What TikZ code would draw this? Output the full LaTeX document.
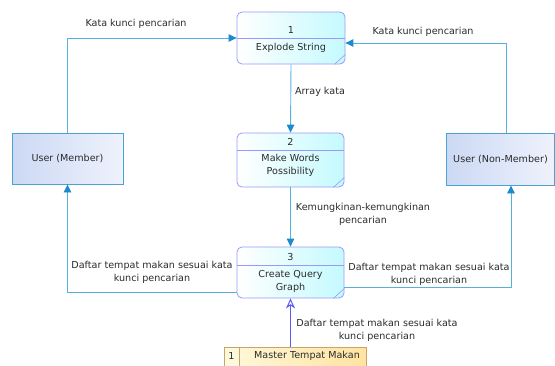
\documentclass[tikz,border=0pt]{standalone}
\usepackage{fontspec}
\setmainfont{DejaVu Sans}
\usetikzlibrary{arrows.meta,calc}

\definecolor{procline}{HTML}{9A9AF5}
\definecolor{procfill}{HTML}{C4FAFF}
\definecolor{entline}{HTML}{4BA3D3}
\definecolor{entfillA}{HTML}{CCD9F4}
\definecolor{entfillB}{HTML}{EEF2FC}
\definecolor{flowline}{HTML}{55B2E0}
\definecolor{flowhead}{HTML}{1C8BCB}
\definecolor{dsline}{HTML}{C9A468}
\definecolor{dsfillA}{HTML}{FFF9DC}
\definecolor{dsfillB}{HTML}{FFE3A0}
\definecolor{dsflow}{HTML}{5A5AF5}
\definecolor{txt}{HTML}{2B2B2B}

\tikzset{
  every node/.style={font=\fontsize{9.6}{13}\selectfont, text=txt},
  process/.style={draw=procline, line width=0.8pt, rounded corners=5pt,
    left color=white, right color=procfill, inner sep=0pt},
  entity/.style={draw=entline, line width=0.9pt, left color=entfillA,
    right color=entfillB, inner sep=0pt},
  flow/.style={draw=flowline, line width=0.9pt,
    -{Triangle[width=7.5pt,length=8pt,color=flowhead,fill=flowhead]}},
  dsflowstyle/.style={draw=dsflow, line width=1pt,
    -{Stealth[open,width=9pt,length=10pt,inset=3pt,line width=1pt]}},
  lbl/.style={align=center, inner sep=0pt},
}

\begin{document}
\begin{tikzpicture}[x=1pt,y=-1pt]
\useasboundingbox (0,0) rectangle (555,365);

% processes
\node[process, minimum width=108pt, minimum height=52pt] (p1) at (291,38) {};
\node[process, minimum width=107pt, minimum height=54pt] (p2) at (290.5,160) {};
\node[process, minimum width=107pt, minimum height=51pt] (p3) at (290.5,272.5) {};

% process dividers and corner marks
\draw[procline, line width=0.8pt] (p1.west |- 0,38) -- (p1.east |- 0,38);
\draw[procline, line width=0.8pt] (p2.west |- 0,150) -- (p2.east |- 0,150);
\draw[procline, line width=0.8pt] (p3.west |- 0,265) -- (p3.east |- 0,265);
\foreach \p in {p1,p2,p3}{
  \draw[procline, line width=0.6pt] ($(\p.south east)+(-11,0)$) -- ($(\p.south east)+(0,-10)$);
}

% process texts
\node[lbl] (n1) at (291,30) {1};
\node[lbl] (t1) at (291,48) {Explode String};
\node[lbl] (n2) at (290.5,142) {2};
\node[lbl] (t2) at (290.5,165.5) {Make Words\\Possibility};
\node[lbl] (n3) at (290.5,257) {3};
\node[lbl] (t3) at (290.5,281) {Create Query\\Graph};

% external entities
\node[entity, minimum width=111pt, minimum height=51pt] (m) at (67.5,158.5) {User (Member)};
\node[entity, minimum width=108pt, minimum height=52pt] (nm) at (500.5,159) {User (Non-Member)};

% data store
\fill[left color=dsfillA, right color=dsfillB] (224,347) rectangle (366,366);
\fill[dsfillA] (224,347) rectangle (239,366);
\draw[dsline, line width=0.8pt] (224,366) -- (224,347) -- (366,347) -- (366,366);
\draw[dsline, line width=0.8pt] (239,347) -- (239,366);
\coordinate (ds) at (290.5,347);
\node[lbl] (dsn) at (231.5,356) {1};
\node[lbl] (dst) at (307,356) {Master Tempat Makan};

% flows
\draw[flow] (m.north) |- (p1.west);
\draw[flow] ([xshift=5.5pt]nm.north) |- ([yshift=-5pt]p1.east);
\draw[flow] (p1.south) -- (p2.north);
\draw[flow] (p2.south) -- (p3.north);
\draw[flow] ([yshift=-19.5pt]p3.west) -| (m.south);
\draw[flow] ([yshift=-14.5pt]p3.east) -| ([xshift=10.5pt]nm.south);
\draw[dsflowstyle] (ds) -- (p3.south);

% flow labels
\node[lbl] (l1) at (136,24) {Kata kunci pencarian};
\node[lbl] (l2) at (423,32) {Kata kunci pencarian};
\node[lbl] (l3) at (320,92) {Array kata};
\node[lbl] (l4) at (363,214) {Kemungkinan-kemungkinan\\pencarian};
\node[lbl] (l5) at (152,272.5) {Daftar tempat makan sesuai kata\\kunci pencarian};
\node[lbl] (l6) at (429,274.5) {Daftar tempat makan sesuai kata\\kunci pencarian};
\node[lbl] (l7) at (377,330) {Daftar tempat makan sesuai kata\\kunci pencarian};
\end{tikzpicture}
\end{document}
